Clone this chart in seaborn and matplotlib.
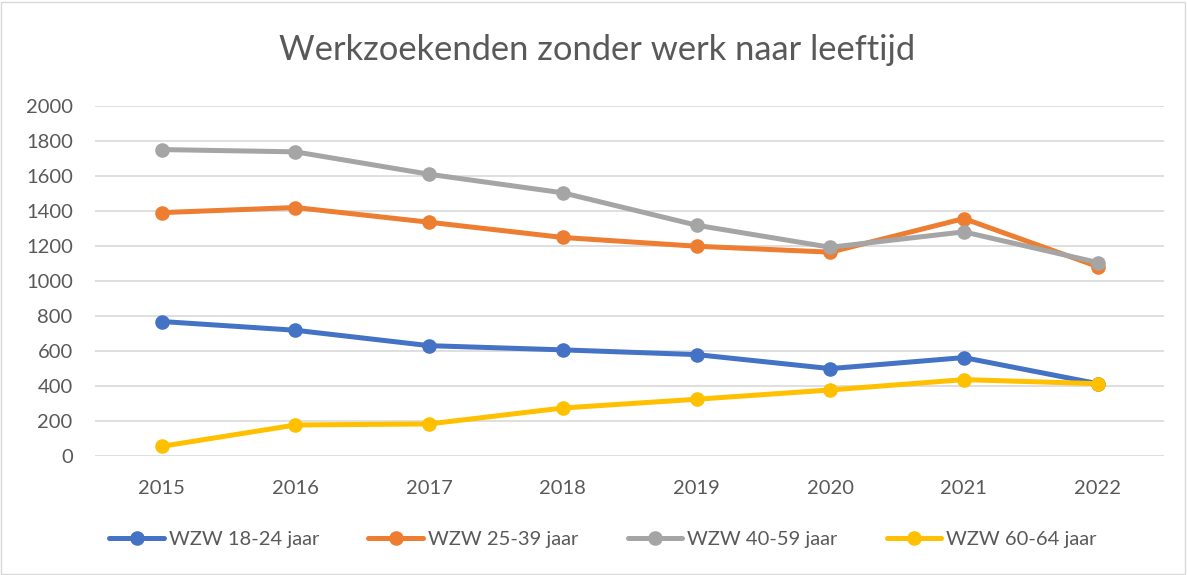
import pandas as pd
import seaborn as sns
import matplotlib.pyplot as plt
from matplotlib.patches import Rectangle

years = [2015, 2016, 2017, 2018, 2019, 2020, 2021, 2022]
wzw_18_24 = [768, 718, 630, 606, 579, 499, 562, 413]
wzw_25_39 = [1390, 1419, 1335, 1248, 1198, 1164, 1356, 1082]
wzw_40_59 = [1750, 1737, 1609, 1503, 1318, 1192, 1280, 1105]
wzw_60_64 = [55, 177, 183, 274, 324, 377, 436, 413]
series_names = ['WZW 18-24 jaar', 'WZW 25-39 jaar', 'WZW 40-59 jaar', 'WZW 60-64 jaar']
colors = ['#4472C4', '#ED7D31', '#A5A5A5', '#FFC000']

df = pd.DataFrame({'jaar': years,
                   series_names[0]: wzw_18_24,
                   series_names[1]: wzw_25_39,
                   series_names[2]: wzw_40_59,
                   series_names[3]: wzw_60_64})
long = df.melt(id_vars='jaar', var_name='groep', value_name='aantal')

sns.set_style('white')
plt.rcParams['font.family'] = ['Lato', 'DejaVu Sans']
text_col = '#595959'

fig = plt.figure(figsize=(11.87, 5.75), dpi=100)
ax = fig.add_axes([0.080, 0.207, 0.901, 0.609])

sns.lineplot(data=long, x='jaar', y='aantal', hue='groep', hue_order=series_names,
             palette=colors, marker='o', markersize=10.5, markeredgewidth=0,
             linewidth=3.6, ax=ax, legend=True)

ax.set_xlim(2014.5, 2022.5)
ax.set_ylim(0, 2000)
ax.set_yticks(range(0, 2001, 200))
ax.set_xticks(years)
ax.grid(axis='y', color='#D9D9D9', linewidth=1.2)
ax.set_axisbelow(True)
for s in ax.spines.values():
    s.set_visible(False)
ax.tick_params(axis='both', length=0, labelsize=14.5, labelcolor=text_col)
ax.tick_params(axis='y', pad=16)
ax.tick_params(axis='x', pad=17)
ax.set_xlabel('')
ax.set_ylabel('')

fig.text(0.503, 0.913, 'Werkzoekenden zonder werk naar leeftijd', ha='center', va='center',
         fontsize=24.8, color=text_col)

handles, labels = ax.get_legend_handles_labels()
ax.get_legend().remove()
fig.legend(handles, labels, loc='center', bbox_to_anchor=(0.508, 0.061),
           bbox_transform=fig.transFigure,
           ncol=4, frameon=False, fontsize=14.5, labelcolor=text_col,
           handlelength=2.7, columnspacing=2.45, handletextpad=0.25)

fig.add_artist(Rectangle((0.001, 0.002), 0.997, 0.995, transform=fig.transFigure,
                         fill=False, edgecolor='#D9D9D9', linewidth=1))

fig.savefig('out.png', dpi=100)
